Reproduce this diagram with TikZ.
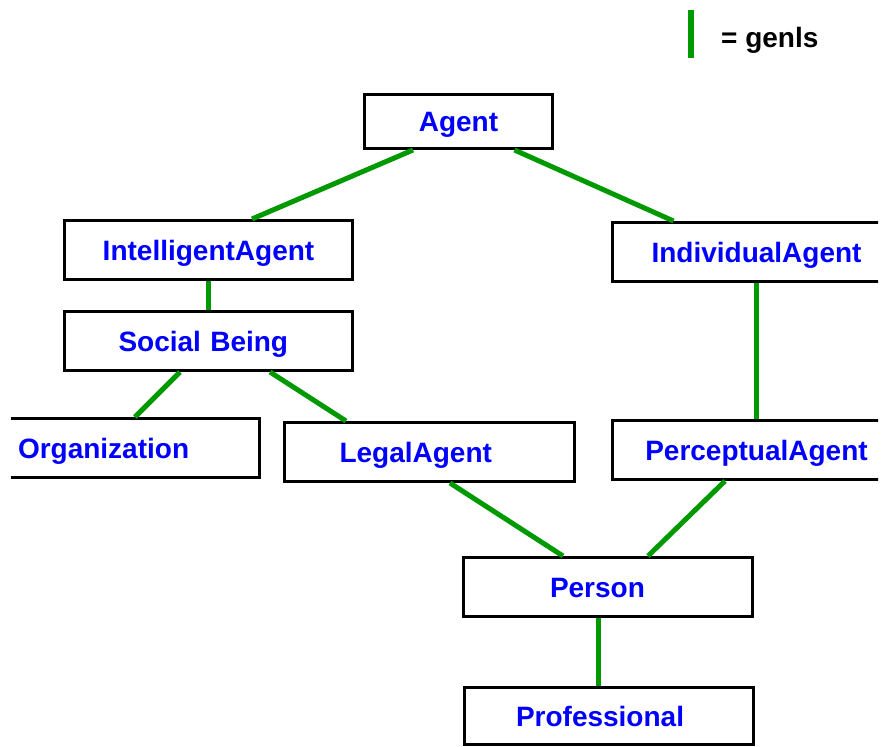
\documentclass[tikz,border=0pt]{standalone}
\usepackage{fontspec}
\setmainfont{Liberation Sans}
\definecolor{genlsgreen}{RGB}{0,153,0}

\begin{document}
\begin{tikzpicture}[x=1pt,y=-1pt,
  concept/.style={draw,line width=3pt,minimum width=288pt,minimum height=59pt,inner sep=0pt,text=blue,font=\fontsize{28}{30}\bfseries\selectfont,text height=20pt,text depth=0pt},
  lefttext/.style={text width=#1,align=left},
  genls/.style={genlsgreen,line width=5pt}]
\useasboundingbox (0,0) rectangle (881,747);
\begin{scope}
\clip (11,0) rectangle (878,747);
\node[concept,minimum width=188pt,minimum height=54pt] (agent) at (458.5,121.5) {Agent};
\node[concept] (intel) at (208.5,250) {IntelligentAgent};
\node[concept] (indiv) at (756.5,252) {IndividualAgent};
\node[concept,lefttext=180pt] (social) at (208.5,341) {Social Being};
\node[concept,lefttext=195pt] (org) at (115.5,448) {Organization};
\node[concept,minimum width=290pt,lefttext=180pt] (legal) at (429.5,452) {LegalAgent};
\node[concept] (percep) at (756.5,450) {PerceptualAgent};
\node[concept,minimum width=289pt,lefttext=116pt] (person) at (608,587) {Person};
\node[concept,minimum width=289pt,minimum height=57pt,lefttext=186pt] (prof) at (609,716) {Professional};
\draw[genls] ([xshift=-45.5pt]agent.south) -- ([xshift=43.5pt]intel.north);
\draw[genls] ([xshift=56pt]agent.south) -- ([xshift=-83pt]indiv.north);
\draw[genls] (intel.south) -- (social.north);
\draw[genls] ([xshift=-28.5pt]social.south) -- ([xshift=19.5pt]org.north);
\draw[genls] ([xshift=61.5pt]social.south) -- ([xshift=-83.5pt]legal.north);
\draw[genls] (indiv.south) -- (percep.north);
\draw[genls] ([xshift=20.5pt]legal.south) -- ([xshift=-45pt]person.north);
\draw[genls] ([xshift=-31.5pt]percep.south) -- ([xshift=40pt]person.north);
\draw[genls] ([xshift=-10pt]person.south) -- ([xshift=-11pt]prof.north);
\end{scope}
% legend
\coordinate (legtop) at (691,10);
\coordinate (legbot) at (691,58);
\draw[genls,line width=6pt] (legtop) -- (legbot);
\node[anchor=base west,inner sep=0pt,font=\fontsize{28}{30}\bfseries\selectfont] (legtext) at (721,47) {= genls};
\end{tikzpicture}
\end{document}
